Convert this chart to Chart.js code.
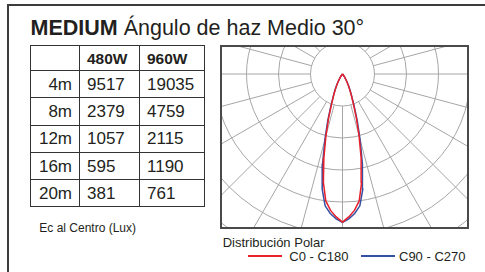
<!DOCTYPE html>
<html>
<head>
<meta charset="utf-8">
<script src="https://cdn.jsdelivr.net/npm/chart.js@4"></script>
<style>
  html, body { margin: 0; padding: 0; background: #fff; }
  body { width: 485px; height: 272px; overflow: hidden; position: relative;
         font-family: "Liberation Sans", Arial, Helvetica, sans-serif; color: #231f20; }
  .frame { position: absolute; left: 7px; top: 4px; width: 600px; height: 400px;
           border-left: 2px solid #3c3c3c; border-top: 2px solid #3c3c3c; }
  .title { position: absolute; left: 30.5px; top: 17.8px; font-size: 21.5px; line-height: 21.5px; white-space: nowrap; }
  table.lux { position: absolute; left: 30px; top: 45px; border-collapse: collapse; table-layout: fixed; }
  table.lux td { border: 1px solid #333; padding: 0; font-size: 17px; line-height: 17px; white-space: nowrap; }
  table.lux tr.head td { height: 24px; font-size: 15.5px; font-weight: bold; }
  table.lux tr.row td { height: 26.3px; }
  table.lux td.dist { text-align: right; padding-right: 7px; }
  table.lux td.val { text-align: left; padding-left: 7px; }
  .note { position: absolute; left: 39.3px; top: 221.5px; font-size: 12px; line-height: 12px; white-space: nowrap; }
  .polarBox { position: absolute; left: 220px; top: 45px; width: 245px; height: 180px; border: 2px solid #4a4a4a; }
  .polarBox canvas { display: block; }
  .polarTitle { position: absolute; left: 222.7px; top: 235.7px; font-size: 13px; line-height: 13px; white-space: nowrap; }
  .legend { position: absolute; top: 249.7px; font-size: 13px; line-height: 13px; white-space: nowrap; }
  .legendLine { position: absolute; height: 1.5px; }
</style>
</head>
<body>
<div class="frame"></div>
<div class="title"><b>MEDIUM</b> Ángulo de haz Medio 30°</div>
<table class="lux" id="luxTable">
  <colgroup><col style="width:49px"><col style="width:60px"><col style="width:65px"></colgroup>
</table>
<div class="note">Ec al Centro (Lux)</div>
<div class="polarBox"><canvas id="polarChart" width="245" height="180"></canvas></div>
<div class="polarTitle">Distribución Polar</div>
<div id="legend"></div>
<script>
// illuminance table
const powerLabels = ['480W', '960W'];
const distances = ['4m', '8m', '12m', '16m', '20m'];
const lux480 = [9517, 2379, 1057, 595, 381];
const lux960 = [19035, 4759, 2115, 1190, 761];

// polar distribution, gamma angle (deg) -> intensity (cd/klm)
const gammaAngles = [0, 2.5, 5, 7.5, 10, 12.5, 15, 17.5, 20, 22.5, 25, 27.5, 30, 35, 40, 45];
const c0c180 = [4630, 4470, 4280, 4000, 3440, 2690, 2000, 1440, 1000, 720, 530, 375, 260, 95, 15, 0];
const c90c270 = [4640, 4530, 4375, 4155, 3655, 2875, 2125, 1530, 1060, 750, 560, 405, 280, 110, 20, 0];
const seriesLabels = ['C0 - C180', 'C90 - C270'];
const seriesColors = ['#e8202a', '#3450a4'];

// grid of the polar diagram
const ringValues = [1000, 2000, 3000, 4000, 5000, 6000, 7000];
const spokeAngles = [0, 15, 30, 45, 60, 75, 90, 105, 120, 135, 150, 165, 180,
                     195, 210, 225, 240, 255, 270, 285, 300, 315, 330, 345];

// table
const table = document.getElementById('luxTable');
let head = '<tr class="head"><td></td>';
powerLabels.forEach(p => { head += `<td class="val">${p}</td>`; });
head += '</tr>';
table.insertAdjacentHTML('beforeend', head);
distances.forEach((d, i) => {
  table.insertAdjacentHTML('beforeend',
    `<tr class="row"><td class="dist">${d}</td><td class="val">${lux480[i]}</td><td class="val">${lux960[i]}</td></tr>`);
});

// both half planes of a C plane, mirrored around nadir
function planePoints(values) {
  const pts = [];
  for (let i = gammaAngles.length - 1; i >= 0; i--) {
    const a = gammaAngles[i] * Math.PI / 180;
    pts.push({ x: -values[i] * Math.sin(a), y: -values[i] * Math.cos(a) });
  }
  for (let i = 1; i < gammaAngles.length; i++) {
    const a = gammaAngles[i] * Math.PI / 180;
    pts.push({ x: values[i] * Math.sin(a), y: -values[i] * Math.cos(a) });
  }
  return pts;
}

const polarGrid = {
  id: 'polarGrid',
  beforeDatasetsDraw(chart) {
    const { ctx, chartArea, scales: { x, y } } = chart;
    const cx = x.getPixelForValue(0);
    const cy = y.getPixelForValue(0);
    ctx.save();
    ctx.beginPath();
    ctx.rect(chartArea.left, chartArea.top, chartArea.width, chartArea.height);
    ctx.clip();
    ctx.strokeStyle = '#a6a6a6';
    ctx.lineWidth = 1;
    ringValues.forEach(r => {
      ctx.beginPath();
      ctx.arc(cx, cy, x.getPixelForValue(r) - cx, 0, Math.PI * 2);
      ctx.stroke();
    });
    const inner = ringValues[0];
    const outer = 10000;
    spokeAngles.forEach(deg => {
      const a = deg * Math.PI / 180;
      ctx.beginPath();
      ctx.moveTo(x.getPixelForValue(inner * Math.sin(a)), y.getPixelForValue(-inner * Math.cos(a)));
      ctx.lineTo(x.getPixelForValue(outer * Math.sin(a)), y.getPixelForValue(-outer * Math.cos(a)));
      ctx.stroke();
    });
    ctx.restore();
  }
};

new Chart(document.getElementById('polarChart').getContext('2d'), {
  type: 'scatter',
  data: {
    datasets: [
      { label: seriesLabels[0], data: planePoints(c0c180), showLine: true, tension: 0,
        borderColor: seriesColors[0], borderWidth: 1.5, pointRadius: 0 },
      { label: seriesLabels[1], data: planePoints(c90c270), showLine: true, tension: 0,
        borderColor: seriesColors[1], borderWidth: 1.5, pointRadius: 0 }
    ]
  },
  options: {
    responsive: false,
    animation: false,
    layout: { padding: 0 },
    scales: {
      x: { type: 'linear', bounds: 'data', min: -3765.6, max: 3890.6, display: false },
      y: { type: 'linear', bounds: 'data', min: -4781.25, max: 843.75, display: false }
    },
    plugins: { legend: { display: false }, tooltip: { enabled: false } }
  },
  plugins: [polarGrid]
});

// legend under the diagram
const legendPos = [{ line: 248, text: 289.3 }, { line: 361, text: 399 }];
const legend = document.getElementById('legend');
seriesLabels.forEach((lab, i) => {
  legend.insertAdjacentHTML('beforeend',
    `<div class="legendLine" style="left:${legendPos[i].line}px;top:255.3px;width:34px;background:${seriesColors[i]}"></div>` +
    `<div class="legend" style="left:${legendPos[i].text}px">${lab}</div>`);
});
</script>
</body>
</html>
